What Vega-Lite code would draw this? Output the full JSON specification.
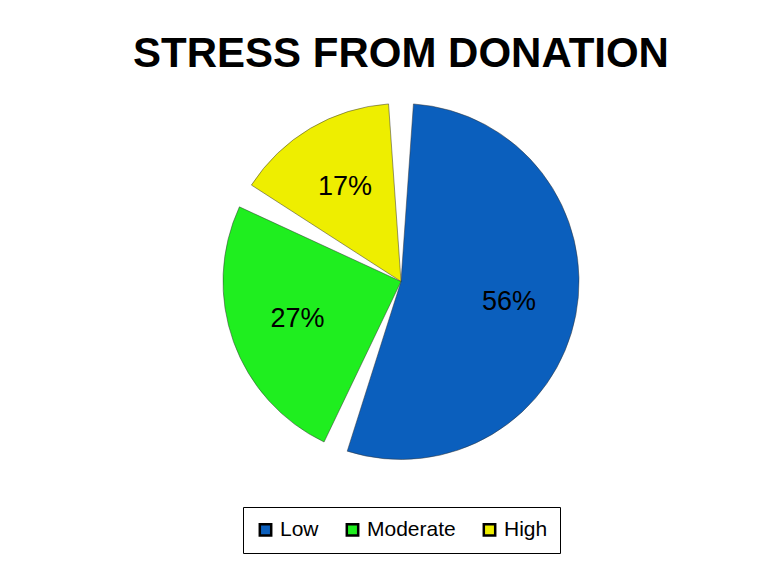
{
  "$schema": "https://vega.github.io/schema/vega-lite/v6.json",
  "width": 780,
  "height": 568,
  "autosize": {"type": "fit", "contains": "padding"},
  "background": "white",
  "padding": {"top": 33, "left": 22, "right": 0, "bottom": 14},
  "config": {"legend": {"layout": {"anchor": "middle"}}},
  "title": {
    "text": "STRESS FROM DONATION",
    "font": "Liberation Sans",
    "fontSize": 42,
    "fontWeight": "bold",
    "color": "black",
    "anchor": "middle",
    "offset": 6
  },
  "data": {
    "values": [
      {"category": "Low", "value": 56, "label": "56%"},
      {"category": "Moderate", "value": 27, "label": "27%"},
      {"category": "High", "value": 17, "label": "17%"}
    ]
  },
  "encoding": {
    "theta": {"field": "value", "type": "quantitative", "stack": true},
    "order": {"field": "value", "type": "quantitative", "sort": "descending"},
    "color": {
      "field": "category",
      "type": "nominal",
      "scale": {
        "domain": ["Low", "Moderate", "High"],
        "range": ["#0b5fbd", "#1fee1f", "#eeee00"]
      },
      "legend": {
        "title": null,
        "orient": "bottom",
        "direction": "horizontal",
        "symbolType": "square",
        "symbolSize": 130,
        "symbolStrokeColor": "black",
        "symbolStrokeWidth": 2.5,
        "labelFont": "Liberation Sans",
        "labelFontSize": 21,
        "labelColor": "black",
        "labelOffset": 4,
        "strokeColor": "black",
        "padding": 12,
        "columnPadding": 22,
        "offset": 26
      }
    }
  },
  "layer": [
    {
      "mark": {"type": "arc", "outerRadius": 178, "padAngle": 0.14, "stroke": "#333333", "strokeWidth": 0.5}
    },
    {
      "mark": {"type": "text", "radius": 110, "font": "Liberation Sans", "fontSize": 27, "color": "black"},
      "encoding": {
        "text": {"field": "label", "type": "nominal"},
        "color": {"value": "black"}
      }
    }
  ]
}
